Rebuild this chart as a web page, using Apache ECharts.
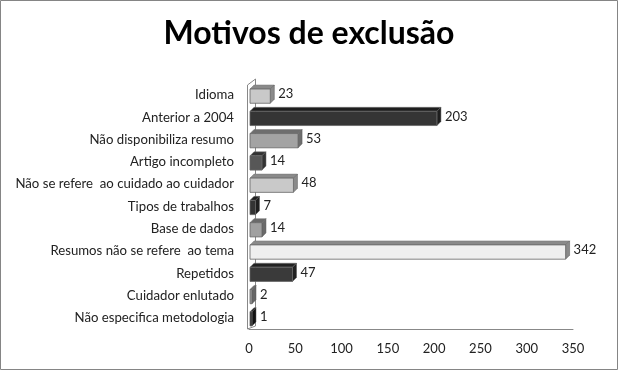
<!DOCTYPE html>
<html><head><meta charset="utf-8">
<script src="https://cdn.jsdelivr.net/npm/echarts@6/dist/echarts.min.js"></script>
<style>html,body{margin:0;padding:0;background:#fff}#c{width:618px;height:370px}</style>
</head><body><div id="c"></div>
<script>
const categories = ["Idioma","Anterior a 2004","Não disponibiliza resumo","Artigo incompleto","Não se refere  ao cuidado ao cuidador","Tipos de trabalhos","Base de dados","Resumos não se refere  ao tema","Repetidos","Cuidador enlutado","Não especifica metodologia"];
const values = [23,203,53,14,48,7,14,342,47,2,1];
const xTicks = [0,50,100,150,200,250,300,350];
const front = ["#c9c9c9","#353535","#a3a3a3","#575757","#c9c9c9","#333333","#a0a0a0","#efefef","#3a3a3a","#9a9a9a","#2a2a2a"];
const side  = ["#8a8a8a","#1e1e1e","#6e6e6e","#333333","#8a8a8a","#1e1e1e","#6a6a6a","#8a8a8a","#222222","#666666","#111111"];

const chart = echarts.init(document.getElementById('c'));
const font = 'Lato, "Open Sans", sans-serif';
const gTop=84, gBottom=41, gLeft=249, gRight=45;
chart.setOption({
  animation:false,
  title:{text:'Motivos de exclusão',left:'center',top:13,textStyle:{fontFamily:font,fontSize:32,fontWeight:'bold',color:'#000'}},
  grid:{left:gLeft,right:gRight,top:gTop,bottom:gBottom},
  xAxis:{type:'value',min:xTicks[0],max:xTicks[xTicks.length-1],interval:50,
    axisLine:{show:true,lineStyle:{color:'#888'}},axisTick:{show:false},splitLine:{show:false},
    axisLabel:{fontFamily:font,fontSize:13,color:'#222',margin:13}},
  yAxis:{type:'category',data:categories,inverse:true,
    axisLine:{show:false},axisTick:{show:false},
    axisLabel:{fontFamily:font,fontSize:13.2,color:'#222',margin:15,padding:[3,0,0,0]}},
  series:[{type:'custom',z:5,
    data:values.map((v,i)=>[v,i]),
    encode:{x:0,y:1},
    renderItem:function(params,api){
      const i=api.value(1), v=api.value(0);
      const s=api.coord([0,i]), e=api.coord([v,i]);
      const h=api.size([0,1])[1]*0.64;
      const d=4;
      const x0=s[0]+1, x1=Math.max(e[0],x0+2), yt=s[1]-h/2+1, yb=yt+h;
      return {type:'group',children:[
        {type:'polygon',shape:{points:[[x0,yt],[x0+d,yt-d],[x1+d,yt-d],[x1,yt]]},style:{fill:side[i],stroke:'#777',lineWidth:0.5}},
        {type:'polygon',shape:{points:[[x1,yt],[x1+d,yt-d],[x1+d,yb-d],[x1,yb]]},style:{fill:side[i],stroke:'#555',lineWidth:0.5}},
        {type:'rect',shape:{x:x0,y:yt,width:x1-x0,height:h},style:{fill:front[i],stroke:'#666',lineWidth:0.8}},
        {type:'text',x:x1+d+4,y:s[1]-1,style:{text:String(v),fontFamily:font,fontSize:13,fill:'#222',verticalAlign:'middle'}}
      ]};
    }
  }]
});
const yT=gTop+1, yB=370-gBottom, lx=247.5, bx=255.5;
chart.setOption({graphic:[
  {type:'rect',z:0,shape:{x:0.5,y:0.5,width:617,height:369},style:{fill:null,stroke:'#858585',lineWidth:1}},
  {type:'polyline',z:0,shape:{points:[[lx,yB],[lx,yT],[bx,yT-6],[bx,yB-3],[lx,yB]]},style:{stroke:'#888',lineWidth:1,fill:null}},
  {type:'line',z:0,shape:{x1:lx,y1:yB-0.5,x2:gLeft,y2:yB-0.5},style:{stroke:'#888',lineWidth:1}}
]});
</script></body></html>
